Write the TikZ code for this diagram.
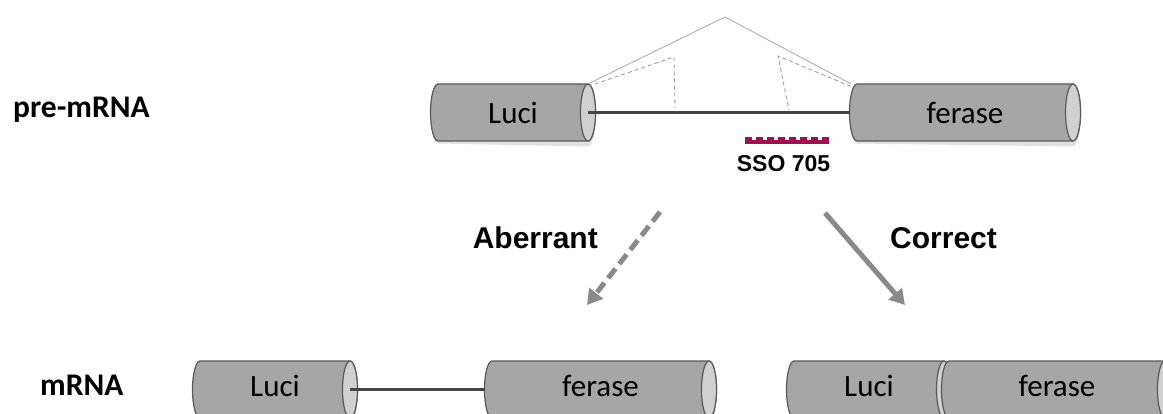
\documentclass[tikz,border=0pt]{standalone}
\usepackage{fontspec}
\setmainfont{Carlito}
\newfontfamily\headfont{Liberation Sans}
\usetikzlibrary{arrows.meta}

\definecolor{tubegray}{HTML}{A6A6A6}
\definecolor{tubeedge}{HTML}{595959}
\definecolor{capgray}{HTML}{D0D0D0}
\definecolor{intron}{HTML}{454545}
\definecolor{arrowgray}{HTML}{8A8A8A}
\definecolor{splicegray}{HTML}{A6A6A6}
\definecolor{splicedashgray}{HTML}{959595}
\definecolor{ssored}{HTML}{A0124E}

% exon drawn as a lying cylinder: name, left x, right x, centre y, text, text lift
\newcommand{\tube}[6]{%
  \fill[tubeshadow] (#2,#4-26) -- (#3,#4-26)
     arc[start angle=-90,end angle=90,x radius=7.5,y radius=30]
     -- (#2,#4+31)
     arc[start angle=90,end angle=270,x radius=7.5,y radius=28.5] -- cycle;
  \path[tubebody] (#2,#4-28.5) -- (#3,#4-28.5)
     arc[start angle=-90,end angle=90,x radius=7.5,y radius=28.5]
     -- (#2,#4+28.5)
     arc[start angle=90,end angle=270,x radius=7.5,y radius=28.5] -- cycle;
  \path[tubecap] (#3,#4) ellipse[x radius=7.5,y radius=28.5];
  \node[tubeframe,minimum width={(#3-#2)*1pt}] (#1) at ({(#2+#3)/2},#4) {};
  \node[tubetext] (#1-text) at ([yshift=#6]#1.center) {#5};
}

\tikzset{
  tubeshadow/.style={fill=black,opacity=0.12},
  tubebody/.style={fill=tubegray,draw=tubeedge,line width=1.2pt},
  tubecap/.style={fill=capgray,draw=tubeedge,line width=1.2pt},
  tubeframe/.style={inner sep=0pt,draw=none,minimum height=57pt},
  tubetext/.style={inner sep=0pt,font=\fontsize{31}{31}\selectfont},
  intronline/.style={draw=intron,line width=3pt},
  splice/.style={draw=splicegray,line width=0.8pt},
  splicedash/.style={draw=splicedashgray,line width=0.8pt,dash pattern=on 4pt off 3pt},
  splitarrow/.style={draw=arrowgray,line width=5pt,
    -{Triangle[length=15pt,width=17pt,fill=arrowgray]}},
  rowlabel/.style={inner sep=0pt,font=\fontsize{31.5}{31.5}\selectfont\bfseries},
  pathlabel/.style={inner sep=0pt,font=\headfont\fontsize{30}{30}\selectfont\bfseries},
  ssotext/.style={inner sep=0pt,font=\headfont\fontsize{23}{23}\selectfont\bfseries},
}

\begin{document}
\begin{tikzpicture}[x=1pt,y=-1pt]
  \fill[white] (0,0) rectangle (1163,414);
  \useasboundingbox (0,0) rectangle (1163,414);

  % row labels
  \node[rowlabel,anchor=base west] (pre) at (13,118) {pre-mRNA};
  \node[rowlabel,anchor=base west] (mrna) at (40,395) {mRNA};

  % pre-mRNA
  \tube{luciP}{438}{588}{112.5}{Luci}{0pt}
  \tube{ferP}{857}{1073}{112.5}{ferase}{0pt}
  \draw[intronline] (luciP.east) -- ([xshift=-7pt]ferP.west);

  % splice site choices
  \coordinate (apex) at (725,17);
  \coordinate (dl1) at (674,57);
  \coordinate (dl2) at (675,108);
  \coordinate (dr1) at (778,56);
  \coordinate (dr2) at (789,110);
  \draw[splice] (luciP.north east) -- (apex) -- ([xshift=-6pt]ferP.north west);
  \draw[splicedash] ([yshift=-2.5pt]luciP.north east) -- (dl1) -- (dl2);
  \draw[splicedash] ([xshift=-6pt,yshift=-2.5pt]ferP.north west) -- (dr1) -- (dr2);

  % splice-switching oligonucleotide
  \fill[ssored] (745,139.6) rectangle (829,144);
  \foreach \k in {0,...,7}
    \fill[ssored] ({745+\k*11},136.8) rectangle ({752+\k*11},140);
  \node[ssotext,anchor=base] (sso) at (783.5,171.7) {SSO 705};

  % processing routes
  \coordinate (abS) at (660,212);
  \coordinate (abE) at (587,305);
  \coordinate (coS) at (825,213);
  \coordinate (coE) at (905,305);
  \draw[splitarrow,dash pattern=on 12pt off 6pt] (abS) -- (abE);
  \draw[splitarrow] (coS) -- (coE);
  \node[pathlabel,anchor=base east] (aberrant) at (598,249) {Aberrant};
  \node[pathlabel,anchor=base west] (correct) at (890,249) {Correct};

  % aberrantly spliced mRNA
  \tube{luciA}{200}{350}{389.5}{Luci}{4pt}
  \tube{ferA}{492}{709}{389.5}{ferase}{4pt}
  \draw[intronline] (luciA.east) -- ([xshift=-7pt]ferA.west);

  % correctly spliced mRNA
  \tube{luciC}{794}{944}{389.5}{Luci}{4pt}
  \tube{ferC}{949}{1165}{389.5}{ferase}{4pt}
\end{tikzpicture}
\end{document}
